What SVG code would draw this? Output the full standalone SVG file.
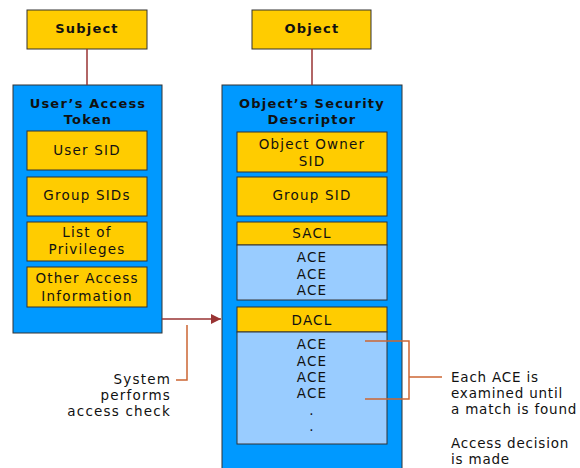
<svg xmlns="http://www.w3.org/2000/svg" width="580" height="468" viewBox="0 0 580 468">
<defs>
<style>
.y{fill:#FFCC00;stroke:#333;stroke-width:1}
.b{fill:#0099FF;stroke:#333;stroke-width:1}
.lb{fill:#99CCFF;stroke:#333;stroke-width:1}
.t{font-family:"DejaVu Sans",Verdana,sans-serif;font-size:13.5px;letter-spacing:1.2px;fill:#111;text-anchor:middle}
.bt{font-weight:bold;font-size:13px}
.l{text-anchor:start;letter-spacing:0.8px}
.r{text-anchor:end}
.dr{stroke:#993333;stroke-width:1.5;fill:none}
.or{stroke:#CC6633;stroke-width:1.5;fill:none}
</style>
<marker id="ah" viewBox="0 0 10 10" refX="10" refY="5" markerWidth="10" markerHeight="10" markerUnits="userSpaceOnUse" orient="auto">
<path d="M0,0 L10,5 L0,10 z" fill="#993333"/>
</marker>
</defs>
<rect width="580" height="468" fill="#fff"/>
<g id="subject">
<rect class="y" x="27" y="10" width="120" height="39"/>
<text class="t bt" x="87" y="33">Subject</text>
</g>
<g id="object">
<rect class="y" x="252" y="10" width="119" height="39"/>
<text class="t bt" x="312" y="33">Object</text>
</g>
<g id="access-token">
<rect class="b" x="13" y="85" width="149" height="248"/>
<text class="t bt" x="88" y="108">User’s Access</text>
<text class="t bt" x="88" y="124">Token</text>
</g>
<g id="user-sid">
<rect class="y" x="27" y="131" width="120" height="39"/>
<text class="t" x="87" y="155">User SID</text>
</g>
<g id="group-sids">
<rect class="y" x="27" y="177" width="120" height="39"/>
<text class="t" x="87" y="200">Group SIDs</text>
</g>
<g id="privileges">
<rect class="y" x="27" y="222" width="120" height="39"/>
<text class="t" x="87" y="237">List of</text>
<text class="t" x="87" y="254">Privileges</text>
</g>
<g id="other-access">
<rect class="y" x="27" y="267" width="120" height="40"/>
<text class="t" x="87" y="283">Other Access</text>
<text class="t" x="87" y="301">Information</text>
</g>
<g id="security-descriptor">
<rect class="b" x="222" y="85" width="180" height="385"/>
<text class="t bt" x="312" y="108">Object’s Security</text>
<text class="t bt" x="312" y="124">Descriptor</text>
</g>
<g id="owner-sid">
<rect class="y" x="237" y="132" width="150" height="40"/>
<text class="t" x="312" y="149">Object Owner</text>
<text class="t" x="312" y="166">SID</text>
</g>
<g id="group-sid">
<rect class="y" x="237" y="177" width="150" height="39"/>
<text class="t" x="312" y="200">Group SID</text>
</g>
<g id="sacl">
<rect class="y" x="237" y="222" width="150" height="23"/>
<text class="t" x="312" y="238">SACL</text>
<rect class="lb" x="237" y="245" width="150" height="55"/>
<text class="t" x="312" y="262">ACE</text>
<text class="t" x="312" y="279">ACE</text>
<text class="t" x="312" y="295">ACE</text>
</g>
<g id="dacl">
<rect class="y" x="237" y="307" width="150" height="25"/>
<text class="t" x="312" y="325">DACL</text>
<rect class="lb" x="237" y="332" width="150" height="112"/>
<text class="t" x="312" y="349">ACE</text>
<text class="t" x="312" y="366">ACE</text>
<text class="t" x="312" y="382">ACE</text>
<text class="t" x="312" y="398">ACE</text>
<text class="t" x="312" y="415">.</text>
<text class="t" x="312" y="431">.</text>
</g>
<g id="label-system">
<text class="t r" x="171" y="384">System</text>
<text class="t r" x="171" y="400">performs</text>
<text class="t r" x="171" y="416">access check</text>
</g>
<g id="label-each">
<text class="t l" x="451" y="382">Each ACE is</text>
<text class="t l" x="451" y="398">examined until</text>
<text class="t l" x="451" y="414">a match is found</text>
<text class="t l" x="451" y="448">Access decision</text>
<text class="t l" x="451" y="464">is made</text>
</g>
<g id="connectors">
<line class="dr" x1="87" y1="49" x2="87" y2="85"/>
<line class="dr" x1="312" y1="49" x2="312" y2="85"/>
<line class="dr" x1="162" y1="319" x2="221" y2="319" marker-end="url(#ah)"/>
<polyline class="or" points="187,325 187,380 176,380"/>
<polyline class="or" points="365,341 409,341 409,399 365,399"/>
<line class="or" x1="409" y1="377" x2="442" y2="377"/>
</g>
</svg>
